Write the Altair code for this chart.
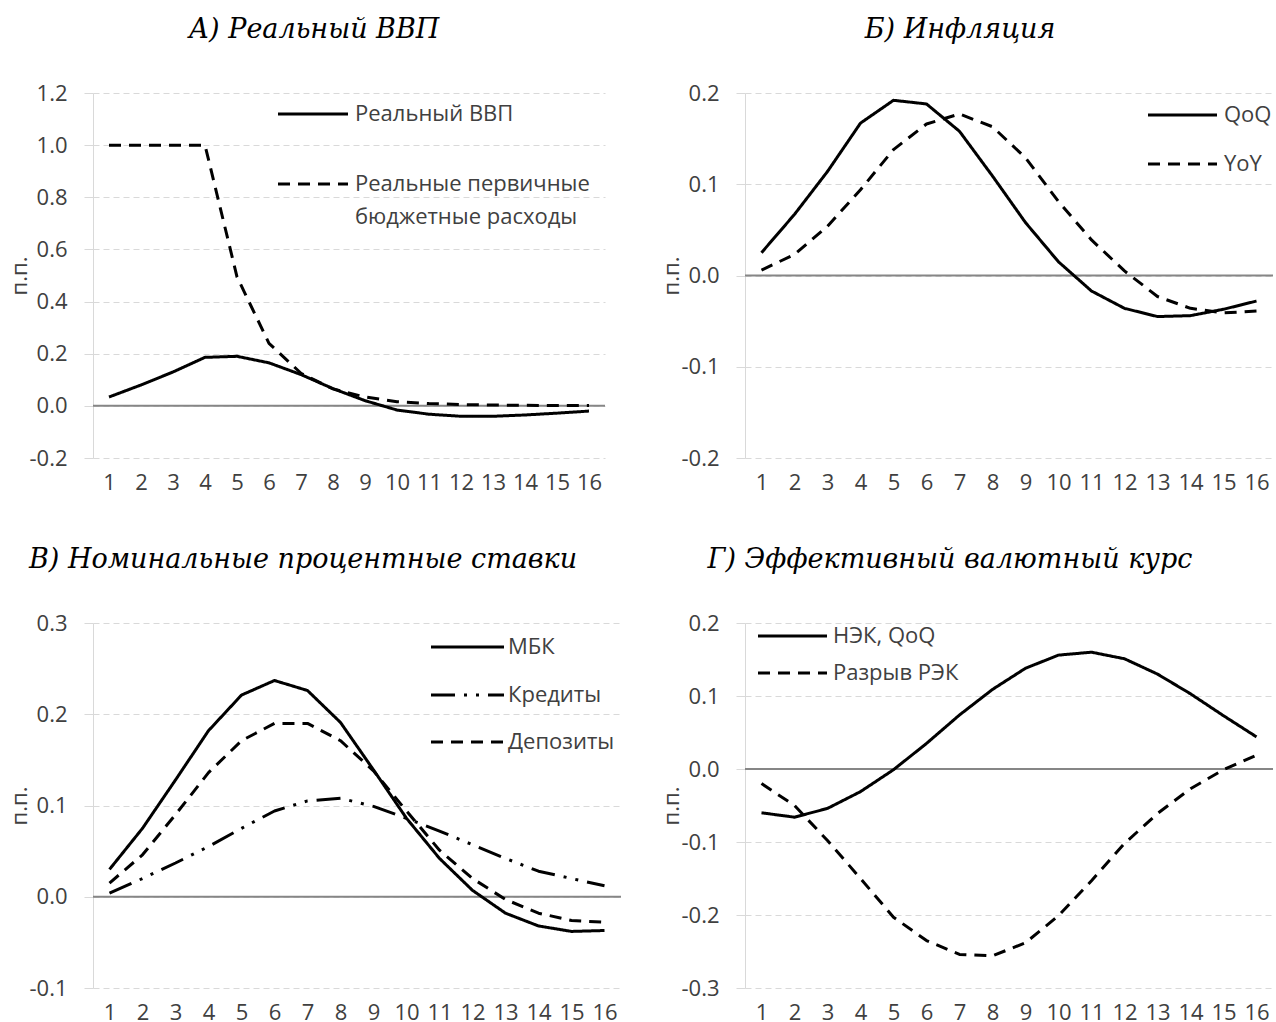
import altair as alt
import pandas as pd

periods = list(range(1, 17))

# Panel A: real GDP and real primary budget spending
gdp = [0.034, 0.08, 0.13, 0.186, 0.19, 0.165, 0.12, 0.066, 0.02, -0.016,
       -0.032, -0.04, -0.04, -0.035, -0.028, -0.02]
budget = [1.0, 1.0, 1.0, 1.0, 0.495, 0.24, 0.125, 0.065, 0.034, 0.016,
          0.009, 0.005, 0.003, 0.002, 0.001, 0.001]

# Panel B: inflation
cpi_qoq = [0.025, 0.067, 0.114, 0.167, 0.192, 0.188, 0.158, 0.109, 0.058, 0.015,
           -0.017, -0.036, -0.045, -0.044, -0.037, -0.028]
cpi_yoy = [0.006, 0.023, 0.054, 0.094, 0.138, 0.166, 0.177, 0.163, 0.129, 0.081,
           0.039, 0.005, -0.023, -0.036, -0.041, -0.039]

# Panel C: nominal interest rates
mbk = [0.030, 0.075, 0.128, 0.182, 0.221, 0.237, 0.226, 0.191, 0.139, 0.086,
       0.042, 0.007, -0.018, -0.032, -0.038, -0.037]
loans = [0.004, 0.020, 0.037, 0.055, 0.075, 0.094, 0.105, 0.108, 0.099, 0.086,
         0.072, 0.057, 0.042, 0.028, 0.020, 0.012]
deposits = [0.015, 0.046, 0.090, 0.136, 0.171, 0.190, 0.190, 0.171, 0.138, 0.094,
            0.051, 0.020, -0.003, -0.018, -0.026, -0.028]

# Panel D: effective exchange rate
neer_qoq = [-0.060, -0.066, -0.054, -0.031, -0.001, 0.035, 0.074, 0.109, 0.138, 0.156,
            0.160, 0.151, 0.130, 0.103, 0.073, 0.044]
reer_gap = [-0.020, -0.050, -0.098, -0.150, -0.203, -0.235, -0.254, -0.256, -0.238, -0.201,
            -0.153, -0.102, -0.061, -0.027, -0.001, 0.019]

SOLID = [1, 0]
DASH = [12, 8]
DASHDOTDOT = [24, 9, 3, 9, 3, 9]

LABEL_FONT = "Open Sans"
TITLE_FONT = "DejaVu Serif"
TEXT_COLOR = "#404040"
GRID = "#d9d9d9"
H = 365
FS = 22


def make_panel(series, title, title_dx, y_domain, y_ticks, width, legend):
    yscale = alt.Scale(domain=y_domain, nice=False, zero=False)
    xscale = alt.Scale(type="point", padding=0.5)
    x_axis = alt.Axis(title=None, labelAngle=0, domain=False, ticks=False,
                      tickSize=0, grid=False, labelPadding=14,
                      labelFont=LABEL_FONT, labelFontSize=FS,
                      labelColor=TEXT_COLOR)
    y_axis = alt.Axis(title="п.п.", values=y_ticks,
                      labelExpr="replace(format(datum.value, '.1f'), '\u2212', '-')",
                      labelFont=LABEL_FONT, labelFontSize=FS, labelColor=TEXT_COLOR,
                      labelPadding=17, tickSize=9, tickColor=GRID, tickWidth=1,
                      domainColor=GRID, domainWidth=1,
                      grid=True, gridColor=GRID, gridDash=[6, 4], gridWidth=1,
                      minExtent=55, maxExtent=55, titlePadding=7,
                      titleFont=LABEL_FONT, titleFontSize=FS,
                      titleFontWeight="normal", titleColor=TEXT_COLOR)

    zero = alt.Chart(pd.DataFrame({"value": [0.0]})).mark_rule(
        color="#868686", strokeWidth=2).encode(
        y=alt.Y("value:Q", scale=yscale, axis=y_axis))

    layers = [zero]
    for name, vals, dash in series:
        df = pd.DataFrame({"t": periods, "value": vals, "series": name})
        layers.append(alt.Chart(df).mark_line(
            color="black", strokeWidth=3, strokeJoin="round", strokeDash=dash).encode(
            x=alt.X("t:O", scale=xscale, axis=x_axis),
            y=alt.Y("value:Q", scale=yscale, axis=y_axis)))

    for entry in legend:
        ldf = pd.DataFrame({"label": [entry["lines"][0]]})
        layers.append(alt.Chart(ldf).mark_rule(
            color="black", strokeWidth=3, strokeDash=entry["dash"]).encode(
            x=alt.value(entry["x1"]), x2=alt.value(entry["x2"]), y=alt.value(entry["y"])))
        for i, txt in enumerate(entry["lines"]):
            tdf = pd.DataFrame({"label": [txt]})
            layers.append(alt.Chart(tdf).mark_text(
                align="left", baseline="middle", font=LABEL_FONT, fontSize=FS,
                color=TEXT_COLOR).encode(
                x=alt.value(entry["tx"]), y=alt.value(entry["y"] + i * entry.get("lh", 0)),
                text="label:N"))

    return alt.layer(*layers).properties(
        width=width, height=H,
        title=alt.TitleParams(title, anchor="middle", frame="group", dx=title_dx,
                              offset=17, baseline="alphabetic", font=TITLE_FONT,
                              fontSize=27, fontStyle="italic", fontWeight="normal",
                              color="black"))


panel_a = make_panel(
    [("Реальный ВВП", gdp, SOLID),
     ("Реальные первичные бюджетные расходы", budget, DASH)],
    "А) Реальный ВВП", -35, [-0.2, 1.2],
    [-0.2, 0.0, 0.2, 0.4, 0.6, 0.8, 1.0, 1.2], 512,
    [{"lines": ["Реальный ВВП"], "dash": SOLID, "x1": 185, "x2": 255, "tx": 262, "y": 21},
     {"lines": ["Реальные первичные", "бюджетные расходы"], "dash": DASH,
      "x1": 185, "x2": 255, "tx": 262, "y": 91, "lh": 33}])

panel_b = make_panel(
    [("QoQ", cpi_qoq, SOLID), ("YoY", cpi_yoy, DASH)],
    "Б) Инфляция", -49, [-0.2, 0.2],
    [-0.2, -0.1, 0.0, 0.1, 0.2], 528,
    [{"lines": ["QoQ"], "dash": SOLID, "x1": 403, "x2": 472, "tx": 479, "y": 22},
     {"lines": ["YoY"], "dash": DASH, "x1": 403, "x2": 472, "tx": 479, "y": 71}])

panel_c = make_panel(
    [("МБК", mbk, SOLID), ("Кредиты", loans, DASHDOTDOT), ("Депозиты", deposits, DASH)],
    "В) Номинальные процентные ставки", -54, [-0.1, 0.3],
    [-0.1, 0.0, 0.1, 0.2, 0.3], 528,
    [{"lines": ["МБК"], "dash": SOLID, "x1": 338, "x2": 411, "tx": 415, "y": 24},
     {"lines": ["Кредиты"], "dash": DASHDOTDOT, "x1": 338, "x2": 411, "tx": 415, "y": 72},
     {"lines": ["Депозиты"], "dash": DASH, "x1": 338, "x2": 411, "tx": 415, "y": 119}])

panel_d = make_panel(
    [("НЭК, QoQ", neer_qoq, SOLID), ("Разрыв РЭК", reer_gap, DASH)],
    "Г) Эффективный валютный курс", -59, [-0.3, 0.2],
    [-0.3, -0.2, -0.1, 0.0, 0.1, 0.2], 528,
    [{"lines": ["НЭК, QoQ"], "dash": SOLID, "x1": 13, "x2": 82, "tx": 88, "y": 13},
     {"lines": ["Разрыв РЭК"], "dash": DASH, "x1": 13, "x2": 82, "tx": 88, "y": 50}])

chart = alt.concat(panel_a, panel_b, panel_c, panel_d, columns=2,
                   spacing={"row": 165, "column": 124}, bounds="flush").properties(
    padding={"left": 8, "top": 16, "right": 0, "bottom": 0},
    background="white").configure_view(stroke=None)

chart.save("out.html", embed_options={"renderer": "svg", "actions": False})
